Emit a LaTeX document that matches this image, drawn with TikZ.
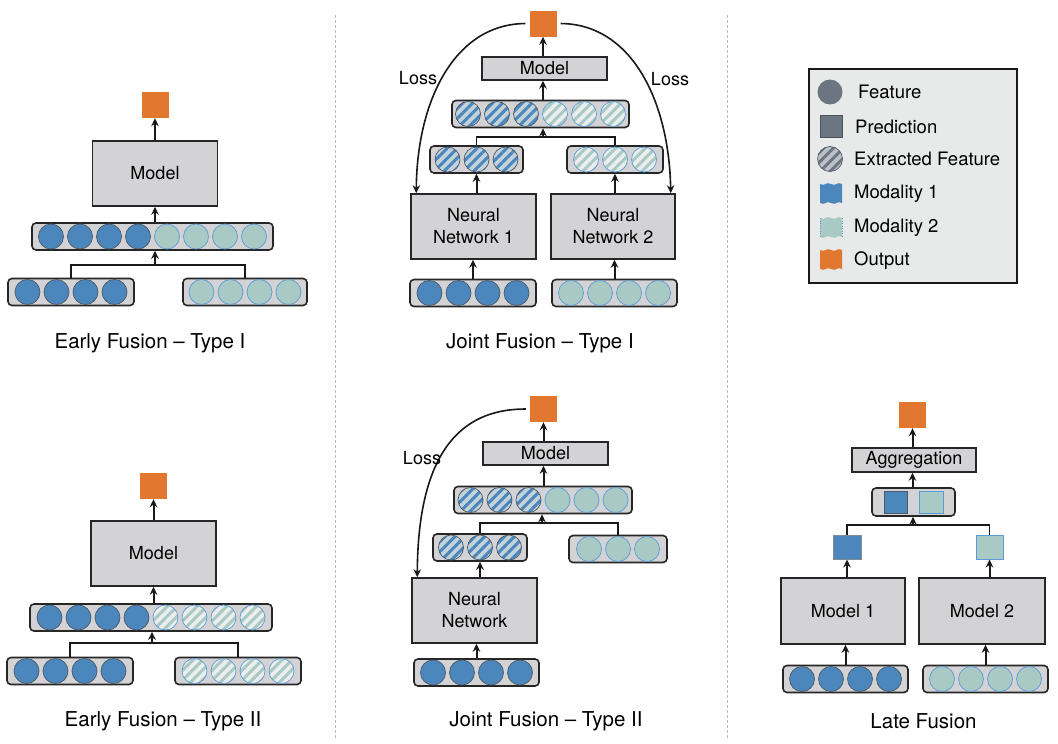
\documentclass[tikz,border=0pt]{standalone}
\usepackage{fontspec}
\setmainfont{TeX Gyre Heros}
\usetikzlibrary{arrows.meta,patterns.meta}
\definecolor{mone}{HTML}{4B87BD}
\definecolor{monel}{HTML}{4D5866}
\definecolor{mtwo}{HTML}{A9C9C5}
\definecolor{mtwol}{HTML}{5C9BD6}
\definecolor{boxgray}{HTML}{D3D3D5}
\definecolor{outor}{HTML}{E2772F}
\definecolor{legbg}{HTML}{E8E9E9}
\definecolor{leggray}{HTML}{6C7682}
\definecolor{hbgone}{HTML}{C4D2DA}
\definecolor{hbgtwo}{HTML}{ECEEED}
\definecolor{divcol}{HTML}{A8BCCB}
\newcommand\btext{\fontsize{18}{22}\selectfont}
\newcommand\ltext{\fontsize{20.5}{24}\selectfont}
\newcommand\cbar[6]{%
  \node[barbox, minimum width=#4] (#1) at (#2,#3) {};
  \foreach \s [count=\i] in {#6}{\node[f\s] (#1-\i) at ({#2+(\i-(#5+1)/2)*29},#3) {};}
}
\newcommand\wflag[3]{%
  \fill[#3] (#1,#2) .. controls (#1+5,#2+3) and (#1+6,#2-3) .. (#1+11,#2)
    .. controls (#1+16,#2+3) and (#1+17,#2-3) .. (#1+22,#2) -- (#1+22,#2+19)
    .. controls (#1+17,#2+16) and (#1+16,#2+22) .. (#1+11,#2+19)
    .. controls (#1+6,#2+16) and (#1+5,#2+22) .. (#1,#2+19) -- cycle;
}
\begin{document}
\begin{tikzpicture}[x=1pt,y=-1pt,
  box/.style={draw=black!85, line width=1.5pt, fill=boxgray, inner sep=0pt, align=center, font=\btext},
  barbox/.style={draw=black!85, line width=1.6pt, fill=boxgray, rounded corners=4pt, minimum height=27pt, inner sep=0pt},
  fa/.style={circle, minimum size=25pt, inner sep=0pt, fill=mone, draw=monel, line width=0.7pt},
  fb/.style={circle, minimum size=25pt, inner sep=0pt, fill=mtwo, draw=mtwol, line width=0.7pt},
  fc/.style={circle, minimum size=25pt, inner sep=0pt, preaction={fill=hbgone}, pattern={Lines[angle=45,distance=7pt,line width=3pt]}, pattern color=mone, draw=monel, line width=0.7pt},
  fd/.style={circle, minimum size=25pt, inner sep=0pt, preaction={fill=hbgtwo}, pattern={Lines[angle=45,distance=7pt,line width=3pt]}, pattern color=mtwo, draw=mtwol, line width=0.7pt},
  outsq/.style={fill=outor, minimum width=27pt, minimum height=26pt, inner sep=0pt},
  conn/.style={line width=1.8pt, draw=black!90},
  arr/.style={-{Stealth[length=8pt,width=7.5pt]}, line width=2pt, draw=black!90},
  lbl/.style={font=\ltext, inner sep=0pt},
  loss/.style={font=\btext, inner sep=0pt},
  divider/.style={draw=divcol, dash pattern=on 2.5pt off 2.5pt, line width=0.9pt},
  legtxt/.style={font=\fontsize{18.5}{22}\selectfont, anchor=west, inner sep=0pt}
]
\useasboundingbox (0,0) rectangle (1058,744);
\fill[white] (0,0) rectangle (1058,744);
% dividers
\draw[divider] (335,15) -- (335,738);
\draw[divider] (727,15) -- (727,738);

% ---------- Early Fusion Type I ----------
\node[outsq] (o1) at (155,105) {};
\node[box, minimum width=125pt, minimum height=65pt] (m1) at (155,173.5) {Model};
\cbar{fb1}{152.5}{236.5}{241pt}{8}{a,a,a,a,b,b,b,b}
\cbar{lb1}{71}{292}{126pt}{4}{a,a,a,a}
\cbar{rb1}{245}{292}{124pt}{4}{b,b,b,b}
\coordinate (j1) at (155,265);
\draw[conn] (lb1.north) |- (j1) -| (rb1.north);
\draw[arr] (j1) -- (j1 |- fb1.south);
\draw[arr] (m1.south |- fb1.north) -- (m1.south);
\draw[arr] (m1.north) -- (o1.south);
\node[lbl] (t1) at (150,343) {Early Fusion – Type I};

% ---------- Early Fusion Type II ----------
\node[outsq] (o2) at (153.5,486) {};
\node[box, minimum width=125pt, minimum height=65pt] (m2) at (153.5,553.5) {Model};
\cbar{fb2}{151}{617.5}{242pt}{8}{a,a,a,a,d,d,d,d}
\cbar{lb2}{70}{671}{126pt}{4}{a,a,a,a}
\cbar{rb2}{238}{671}{126pt}{4}{d,d,d,d}
\coordinate (j2) at (152,643);
\draw[conn] (lb2.north) |- (j2) -| (rb2.north);
\draw[arr] (j2) -- (j2 |- fb2.south);
\draw[arr] (m2.south |- fb2.north) -- (m2.south);
\draw[arr] (m2.north) -- (o2.south);
\node[lbl] (t2) at (163,721) {Early Fusion – Type II};

% ---------- Joint Fusion Type I ----------
\node[outsq] (o3) at (543,23.5) {};
\node[box, minimum width=125pt, minimum height=23pt] (mj1) at (544.5,68.5) {Model};
\cbar{fj1}{540.5}{114}{177pt}{6}{c,c,c,d,d,d}
\cbar{l3}{476.5}{159.5}{93pt}{3}{c,c,c}
\cbar{r3}{615}{159.5}{96pt}{3}{d,d,d}
\coordinate (j3) at (543,137);
\draw[conn] (l3.north) |- (j3) -| (r3.north);
\draw[arr] (j3) -- (j3 |- fj1.south);
\draw[arr] (o3 |- fj1.north) -- (o3 |- mj1.south);
\draw[arr] (o3 |- mj1.north) -- (o3.south);
\node[box, minimum width=125pt, minimum height=65pt] (nn1) at (473.5,226.5) {Neural\\Network 1};
\node[box, minimum width=124pt, minimum height=65pt] (nn2) at (613,226.5) {Neural\\Network 2};
\cbar{in1}{473}{293}{126pt}{4}{a,a,a,a}
\cbar{in2}{614.5}{293}{125pt}{4}{b,b,b,b}
\draw[arr] (in1.north) -- (in1.north |- nn1.south);
\draw[arr] (in2.north) -- (in2.north |- nn2.south);
\draw[arr] (l3.south |- nn1.north) -- (l3.south);
\draw[arr] (r3.south |- nn2.north) -- (r3.south);
\draw[arr, line width=1.6pt, shorten <=4pt] (o3.west) .. controls (455,24) and (417,100) .. ([xshift=6pt]nn1.north west);
\draw[arr, line width=1.6pt, shorten <=4pt] (o3.east) .. controls (631,24) and (669,100) .. ([xshift=-5pt]nn2.north east);
\node[loss] (ls1) at (418,78) {Loss};
\node[loss] (ls2) at (670,79) {Loss};
\node[lbl] (t3) at (540,343) {Joint Fusion – Type I};

% ---------- Joint Fusion Type II ----------
\node[outsq] (o4) at (543.5,409) {};
\node[box, minimum width=125pt, minimum height=23pt] (mj2) at (545.5,453.5) {Model};
\cbar{fj2}{543}{500}{178pt}{6}{c,c,c,b,b,b}
\cbar{l4}{480}{547.5}{94pt}{3}{c,c,c}
\cbar{r4}{618}{549}{98pt}{3}{b,b,b}
\coordinate (j4) at (542,523);
\draw[conn] (l4.north) |- (j4) -| (r4.north);
\draw[arr] (j4) -- (j4 |- fj2.south);
\draw[arr] (o4 |- fj2.north) -- (o4 |- mj2.south);
\draw[arr] (o4 |- mj2.north) -- (o4.south);
\node[box, minimum width=125pt, minimum height=65pt] (nn3) at (474.5,610.5) {Neural\\Network};
\cbar{in3}{476.5}{672.5}{125pt}{4}{a,a,a,a}
\draw[arr] (in3.north) -- (in3.north |- nn3.south);
\draw[arr] (l4.south |- nn3.north) -- (l4.south);
\draw[arr, line width=1.6pt, shorten <=4pt] (o4.west) .. controls (470,409) and (418,440) .. ([xshift=6pt]nn3.north west);
\node[loss] (ls3) at (422,458) {Loss};
\node[lbl] (t4) at (546,721) {Joint Fusion – Type II};

% ---------- Late Fusion ----------
\node[outsq] (o5) at (912.5,415) {};
\node[box, minimum width=124pt, minimum height=24pt] (ag) at (914,460) {Aggregation};
\node[barbox, minimum width=83pt, minimum height=28pt] (sb) at (913.5,502) {};
\node[fill=mone, draw=monel, line width=1pt, minimum width=23pt, minimum height=22pt, inner sep=0pt] (sqa) at (895.5,502) {};
\node[fill=mtwo, draw=mtwol, line width=1pt, minimum width=24pt, minimum height=22pt, inner sep=0pt] (sqb) at (931,502) {};
\node[fill=mone, draw=monel!70, line width=1pt, minimum width=28pt, minimum height=24pt, inner sep=0pt] (p1) at (847,547) {};
\node[fill=mtwo, draw=mtwol, line width=1pt, minimum width=27pt, minimum height=24pt, inner sep=0pt] (p2) at (989.5,547) {};
\coordinate (j5) at (913,525);
\draw[conn] (p1.north) |- (j5) -| (p2.north);
\draw[arr] (j5) -- (j5 |- sb.south);
\draw[arr] (o5 |- sb.north) -- (o5 |- ag.south);
\draw[arr] (o5 |- ag.north) -- (o5.south);
\node[box, minimum width=124pt, minimum height=66pt] (mo1) at (843,611) {Model 1};
\node[box, minimum width=126pt, minimum height=66pt] (mo2) at (982,611) {Model 2};
\cbar{in4}{845.5}{679}{125pt}{4}{a,a,a,a}
\cbar{in5}{985.5}{679}{125pt}{4}{b,b,b,b}
\draw[arr] (p1.south |- mo1.north) -- (p1.south);
\draw[arr] (p2.south |- mo2.north) -- (p2.south);
\draw[arr] (in4.north) -- (in4.north |- mo1.south);
\draw[arr] (in5.north) -- (in5.north |- mo2.south);
\node[lbl] (t5) at (923.5,721) {Late Fusion};

% ---------- Legend ----------
\node[draw=black!90, line width=1.5pt, fill=legbg, minimum width=208pt, minimum height=214pt, inner sep=0pt] (lg) at (913,176) {};
\node[circle, fill=leggray, minimum size=25pt, inner sep=0pt] (lgf) at (830,92) {};
\node[legtxt] (lgft) at (858,92) {Feature};
\node[fill=leggray, draw=leggray!70!black, line width=0.6pt, minimum size=22pt, inner sep=0pt] (lgp) at (831,126) {};
\node[legtxt] (lgpt) at (855,127) {Prediction};
\node[circle, minimum size=25pt, inner sep=0pt, preaction={fill=leggray!45}, pattern={Lines[angle=45,distance=7pt,line width=3pt]}, pattern color=leggray, draw=leggray!80!black, line width=0.7pt] (lge) at (830,159) {};
\node[legtxt] (lget) at (854,159) {Extracted Feature};
\wflag{820}{184}{mone}
\node[legtxt] (lgm1) at (854,194) {Modality 1};
\wflag{820}{218}{mtwo}
\draw[mtwol, line width=0.5pt, dotted] (820,218) -- (820,237) (842,218) -- (842,237);
\node[legtxt] (lgm2) at (854,228) {Modality 2};
\wflag{820}{250}{outor}
\node[legtxt] (lgo) at (854,261) {Output};
\end{tikzpicture}
\end{document}
